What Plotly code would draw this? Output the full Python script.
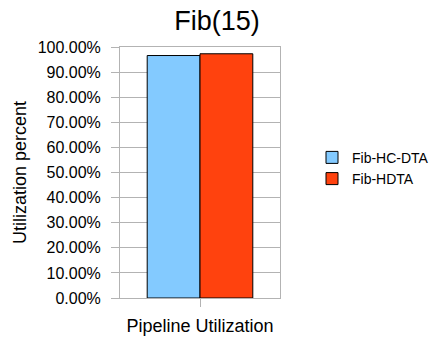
import plotly.graph_objects as go

categories = ["Pipeline Utilization"]
series_names = ["Fib-HC-DTA", "Fib-HDTA"]
series_values = [[0.966], [0.973]]
series_colors = ["#83caff", "#ff420e"]

fig = go.Figure()
for name, vals, col in zip(series_names, series_values, series_colors):
    fig.add_trace(go.Bar(
        x=categories, y=vals, name=name,
        marker=dict(color=col, line=dict(color="#000000", width=1)),
    ))

font_family = "Liberation Sans, Arial, sans-serif"
fig.update_layout(
    width=430, height=340,
    margin=dict(l=120, r=150, t=47, b=42, autoexpand=False),
    paper_bgcolor="white", plot_bgcolor="white",
    barmode="group", bargap=0.34, bargroupgap=0,
    font=dict(family=font_family, color="#000000"),
    title=dict(text="Fib(15)", x=217 / 430, xref="container", xanchor="center",
               y=0.941, yanchor="middle",
               font=dict(size=27, family=font_family)),
    legend=dict(x=312 / 430, y=0.505, xref="container", yref="container",
                xanchor="left", yanchor="middle",
                font=dict(size=14, family=font_family),
                itemwidth=30, tracegroupgap=0, bgcolor="rgba(0,0,0,0)"),
    showlegend=True,
)
fig.update_yaxes(
    range=[0, 1], dtick=0.1, tickformat=".2%",
    showgrid=True, gridcolor="#b3b3b3", gridwidth=1,
    showline=True, linecolor="#b3b3b3", linewidth=1, mirror=True,
    ticks="outside", ticklen=8, tickcolor="#b3b3b3",
    tickfont=dict(size=16, family=font_family), ticklabelstandoff=7,
    title=dict(text="Utilization percent", font=dict(size=18, family=font_family), standoff=6),
    zeroline=False,
)
fig.update_xaxes(
    showline=True, linecolor="#b3b3b3", linewidth=1, mirror=True,
    ticks="outside", ticklen=8, tickcolor="#b3b3b3",
    tickfont=dict(size=18, family=font_family), ticklabelstandoff=3,
)

fig.write_html("out.html")
